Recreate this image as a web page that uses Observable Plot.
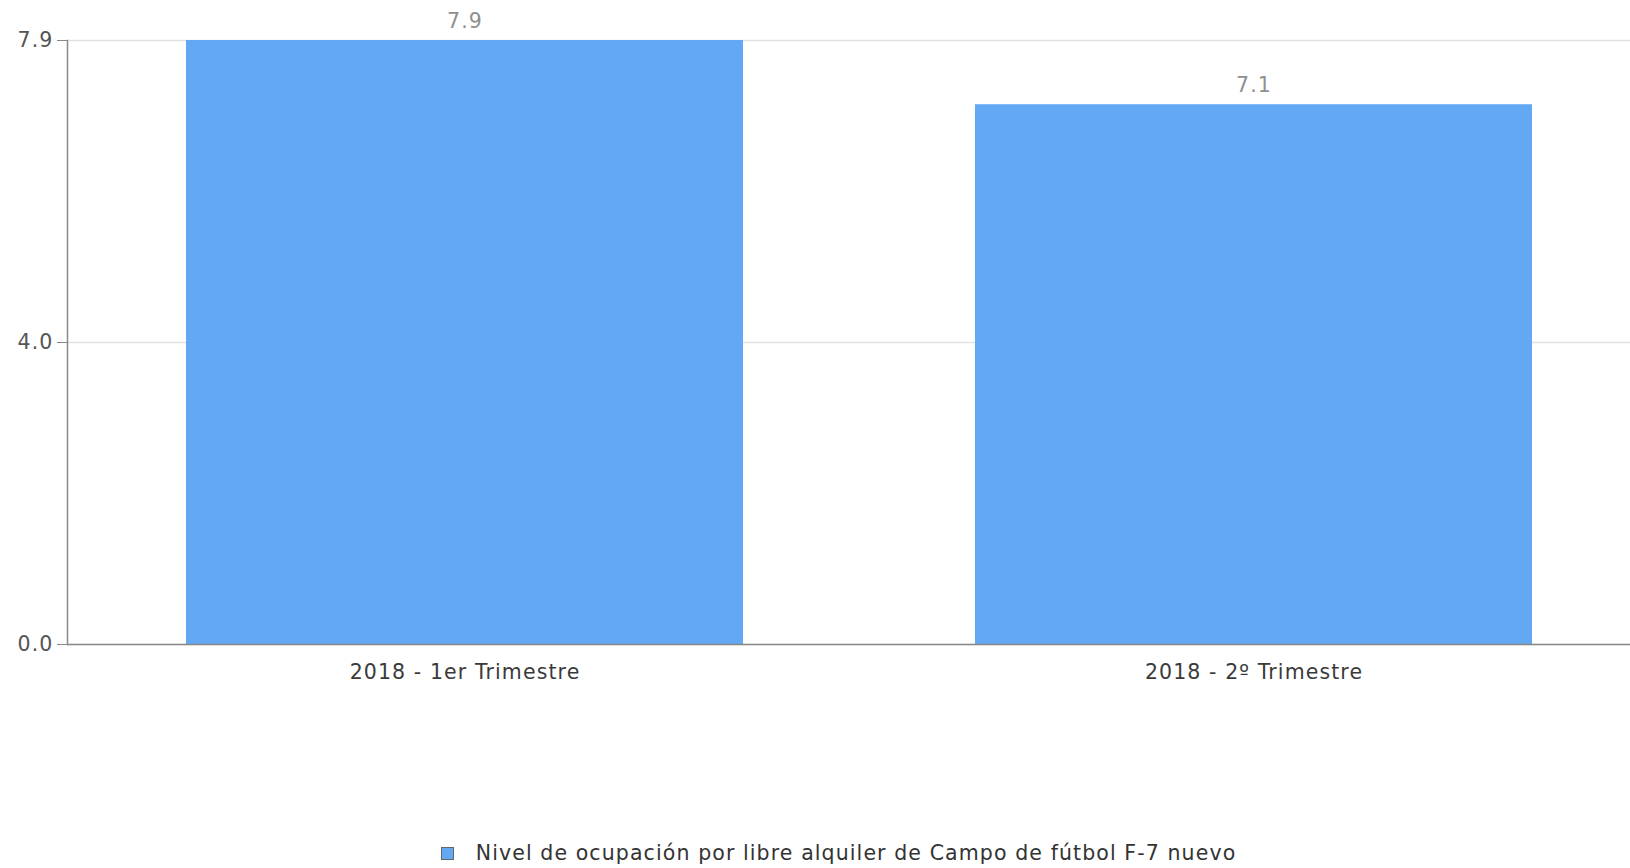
<!DOCTYPE html>
<html>
<head>
<meta charset="utf-8">
<script src="https://cdn.jsdelivr.net/npm/d3@7"></script>
<script src="https://cdn.jsdelivr.net/npm/@observablehq/plot@0.6"></script>
<style>
  body { margin: 0; background: #fff; font-family: "DejaVu Sans", sans-serif; }
  #chart { width: 1630px; overflow: hidden; }
  #legend { margin-top: 141px; display: flex; align-items: center; justify-content: center; padding-left: 47px; font-size: 20.5px; letter-spacing: 1.1px; line-height: 25px; color: #333; }
  #legend .sw { width: 13px; height: 13px; background: #62a8f2; border: 1.5px solid #666; margin-right: 22px; box-sizing: border-box; }
</style>
</head>
<body>
<div id="chart"></div>
<div id="legend"><span class="sw"></span><span id="legtext"></span></div>
<script>
const categories = ["2018 - 1er Trimestre", "2018 - 2º Trimestre"];
const values = [7.9, 7.06];
const valueLabels = ["7.9", "7.1"];
const yTicks = [0, 3.95, 7.9];
const seriesName = "Nivel de ocupación por libre alquiler de Campo de fútbol F-7 nuevo";

const data = categories.map((c, i) => ({cat: c, v: values[i], label: valueLabels[i]}));

const plot = Plot.plot({
  width: 1630,
  height: 700,
  marginTop: 40,
  marginBottom: 56,
  marginLeft: 67,
  marginRight: -21,
  style: {fontFamily: "DejaVu Sans, sans-serif", fontSize: "20.5px", letterSpacing: "1.1px", background: "#fff"},
  x: {domain: categories, paddingInner: 0.294, paddingOuter: 0.15, label: null},
  y: {domain: [0, 7.9], label: null},
  marks: [
    Plot.gridY(yTicks, {stroke: "#e2e2e2", strokeOpacity: 1, strokeWidth: 1.5}),
    Plot.barY(data, {x: "cat", y: "v", fill: "#62a8f2"}),
    Plot.text(data, {x: "cat", y: "v", text: "label", dy: -19, fill: "#8f8f8f", fontSize: 20.5}),
    Plot.ruleY([0], {stroke: "#888", strokeWidth: 1.5}),
    Plot.axisY(yTicks, {tickFormat: d3.format(".1f"), tickSize: 10, stroke: "#888", fill: "#555", fontSize: 20.5, tickPadding: 4}),
    Plot.axisX({tickSize: 0, tickPadding: 20, fill: "#3a3a3a", fontSize: 20.5}),
    Plot.frame({anchor: "left", stroke: "#888", strokeWidth: 1.5})
  ]
});
document.getElementById("chart").appendChild(plot);
document.getElementById("legtext").textContent = seriesName;
</script>
</body>
</html>
